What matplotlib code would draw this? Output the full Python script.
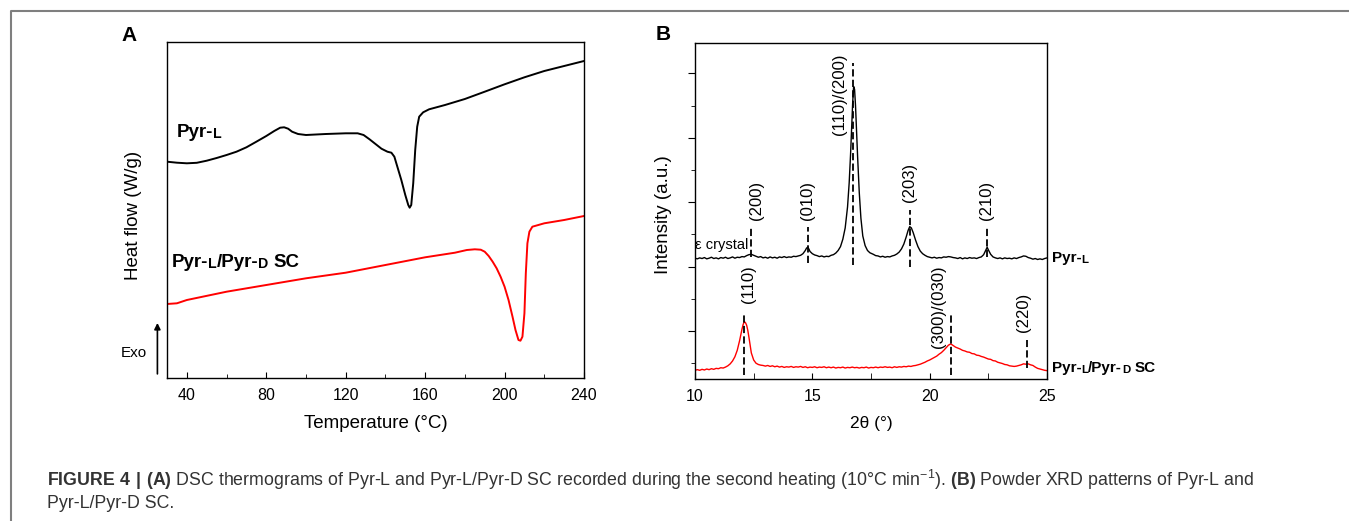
import matplotlib.pyplot as plt
from matplotlib.lines import Line2D
from matplotlib.ticker import MultipleLocator

plt.rcParams['font.family'] = ['Liberation Sans', 'DejaVu Sans']
plt.rcParams['mathtext.fontset'] = 'custom'
plt.rcParams['mathtext.rm'] = 'Liberation Sans'
plt.rcParams['mathtext.bf'] = 'Liberation Sans:bold'

# ---- (A) DSC, second heating ----
dsc_temp_l = [30, 35, 40, 45, 50, 55, 60, 65, 70, 75, 80, 84, 87, 89, 91, 93, 96, 100,
              110, 120, 126, 129, 132, 135, 138, 141, 143, 144.5, 146, 148, 150, 151.5,
              152.2, 153, 154, 155, 156, 157, 159, 162, 170, 180, 190, 200, 210, 220, 230, 240]
dsc_hf_l = [21.63, 21.53, 21.47, 21.52, 21.73, 22.0, 22.3, 22.63, 23.07, 23.63, 24.2, 24.7,
            25.03, 25.07, 24.93, 24.63, 24.4, 24.3, 24.4, 24.47, 24.47, 24.3, 23.87, 23.4,
            22.93, 22.63, 22.53, 22.13, 21.13, 19.8, 18.3, 17.3, 17.03, 17.3, 19.47, 22.8,
            25.13, 26.13, 26.57, 26.87, 27.3, 27.9, 28.63, 29.37, 30.07, 30.7, 31.2, 31.7]

dsc_temp_sc = [30, 35, 40, 60, 80, 100, 120, 140, 160, 175, 181, 185, 188, 190, 192, 194,
               196, 198, 200, 202, 204, 205.5, 207, 208, 209, 210, 210.7, 211.5, 212.5, 214,
               220, 230, 240]
dsc_hf_sc = [7.4, 7.47, 7.8, 8.63, 9.3, 9.97, 10.53, 11.3, 12.07, 12.53, 12.8, 12.87, 12.83,
             12.63, 12.2, 11.63, 10.97, 10.13, 9.13, 7.8, 6.13, 4.8, 3.8, 3.73, 4.13, 6.47,
             10.47, 13.47, 14.63, 15.13, 15.47, 15.8, 16.2]

# ---- (B) powder XRD ----
xrd_2t_l = [10.0, 10.1, 10.2, 10.3, 10.4, 10.5, 10.6, 10.7, 10.8, 10.9, 11.0, 11.1, 11.2, 11.3,
            11.4, 11.5, 11.6, 11.7, 11.8, 11.9, 12.0, 12.1, 12.2, 12.3, 12.4, 12.5, 12.6, 12.7,
            12.8, 12.9, 13.0, 13.1, 13.2, 13.3, 13.4, 13.5, 13.6, 13.7, 13.8, 13.9, 14.0, 14.1,
            14.2, 14.3, 14.4, 14.5, 14.6, 14.7, 14.75, 14.8, 14.85, 14.9, 15.0, 15.1, 15.2, 15.3,
            15.4, 15.5, 15.6, 15.7, 15.8, 15.9, 16.0, 16.1, 16.2, 16.3, 16.4, 16.5, 16.57, 16.63,
            16.68, 16.72, 16.76, 16.8, 16.84, 16.88, 16.93, 17.0, 17.07, 17.15, 17.25, 17.35,
            17.45, 17.6, 17.7, 17.8, 17.9, 18.0, 18.1, 18.2, 18.3, 18.4, 18.5, 18.6, 18.7, 18.8,
            18.9, 19.0, 19.08, 19.15, 19.22, 19.3, 19.4, 19.5, 19.6, 19.7, 19.8, 19.9, 20.0, 20.1,
            20.2, 20.3, 20.4, 20.5, 20.6, 20.7, 20.8, 20.9, 21.0, 21.1, 21.2, 21.3, 21.4, 21.5,
            21.6, 21.7, 21.8, 21.9, 22.0, 22.1, 22.2, 22.3, 22.4, 22.45, 22.5, 22.6, 22.7, 22.8,
            22.9, 23.0, 23.1, 23.2, 23.3, 23.4, 23.5, 23.6, 23.7, 23.8, 23.9, 24.0, 24.1, 24.2,
            24.3, 24.4, 24.5, 24.6, 24.7, 24.8, 24.9, 25.0]
xrd_int_l = [4.26, 4.24, 4.27, 4.25, 4.28, 4.24, 4.26, 4.29, 4.25, 4.27, 4.24, 4.28, 4.26, 4.29,
             4.25, 4.27, 4.30, 4.26, 4.29, 4.28, 4.31, 4.30, 4.34, 4.37, 4.38, 4.35, 4.32, 4.29,
             4.31, 4.27, 4.29, 4.26, 4.30, 4.27, 4.29, 4.26, 4.30, 4.28, 4.31, 4.28, 4.30, 4.29,
             4.32, 4.31, 4.33, 4.35, 4.40, 4.50, 4.57, 4.60, 4.55, 4.47, 4.40, 4.36, 4.34, 4.31,
             4.33, 4.30, 4.32, 4.31, 4.35, 4.37, 4.42, 4.50, 4.62, 4.85, 5.20, 5.85, 6.60, 7.50,
             8.40, 9.10, 9.59, 9.50, 9.00, 8.30, 7.40, 6.30, 5.50, 4.95, 4.65, 4.50,
             4.43, 4.38, 4.34, 4.33, 4.30, 4.32, 4.29, 4.31, 4.30, 4.33, 4.35, 4.39, 4.45, 4.55,
             4.70, 4.92, 5.12, 5.24, 5.20, 5.05, 4.82, 4.62, 4.48, 4.40, 4.35, 4.31, 4.29, 4.27,
             4.29, 4.26, 4.28, 4.27, 4.30, 4.29, 4.31, 4.30, 4.28, 4.27, 4.25, 4.28, 4.24, 4.27,
             4.25, 4.28, 4.26, 4.27, 4.25, 4.28, 4.30, 4.37, 4.52, 4.60, 4.52, 4.38, 4.30, 4.27,
             4.25, 4.27, 4.24, 4.27, 4.25, 4.26, 4.24, 4.27, 4.25, 4.28, 4.30, 4.33, 4.32, 4.28,
             4.26, 4.23, 4.25, 4.22, 4.24, 4.22, 4.25, 4.27]

xrd_2t_sc = [10.0, 10.1, 10.2, 10.3, 10.4, 10.5, 10.6, 10.7, 10.8, 10.9, 11.0, 11.1, 11.2, 11.3,
             11.4, 11.5, 11.6, 11.7, 11.8, 11.9, 12.0, 12.05, 12.1, 12.15, 12.2, 12.25, 12.3,
             12.35, 12.4, 12.5, 12.6, 12.7, 12.8, 12.9, 13.0, 13.1, 13.2, 13.3, 13.4, 13.5, 13.6,
             13.7, 13.8, 13.9, 14.0, 14.1, 14.2, 14.3, 14.4, 14.5, 14.6, 14.7, 14.8, 14.9, 15.0,
             15.1, 15.2, 15.3, 15.4, 15.5, 15.6, 15.7, 15.8, 15.9, 16.0, 16.1, 16.2, 16.3, 16.4,
             16.5, 16.6, 16.7, 16.8, 16.9, 17.0, 17.1, 17.2, 17.3, 17.4, 17.5, 17.6, 17.7, 17.8,
             17.9, 18.0, 18.1, 18.2, 18.3, 18.4, 18.5, 18.6, 18.7, 18.8, 18.9, 19.0, 19.1, 19.2,
             19.3, 19.4, 19.5, 19.6, 19.7, 19.8, 19.9, 20.0, 20.1, 20.2, 20.3, 20.4, 20.5, 20.6,
             20.7, 20.8, 20.9, 21.0, 21.1, 21.2, 21.3, 21.4, 21.5, 21.6, 21.7, 21.8, 21.9, 22.0,
             22.1, 22.2, 22.3, 22.4, 22.5, 22.6, 22.7, 22.8, 22.9, 23.0, 23.1, 23.2, 23.3, 23.4,
             23.5, 23.6, 23.7, 23.8, 23.9, 24.0, 24.1, 24.2, 24.3, 24.4, 24.5, 24.6, 24.7, 24.8,
             24.9, 25.0]
xrd_int_sc = [0.78, 0.80, 0.78, 0.81, 0.79, 0.82, 0.80, 0.83, 0.81, 0.84, 0.83, 0.86, 0.85, 0.88,
              0.92, 0.98, 1.07, 1.20, 1.40, 1.70, 2.05, 2.20, 2.29, 2.26, 2.18, 2.02, 1.80,
              1.55, 1.32, 1.10, 1.00, 0.96, 0.94, 0.93, 0.91, 0.93, 0.90, 0.92, 0.89, 0.91, 0.88,
              0.90, 0.87, 0.89, 0.88, 0.90, 0.87, 0.89, 0.88, 0.90, 0.87, 0.89, 0.86, 0.88, 0.87,
              0.89, 0.86, 0.88, 0.87, 0.89, 0.86, 0.88, 0.86, 0.88, 0.85, 0.87, 0.86, 0.88, 0.85,
              0.87, 0.86, 0.88, 0.86, 0.87, 0.85, 0.87, 0.86, 0.88, 0.85, 0.87, 0.86, 0.88, 0.86,
              0.88, 0.87, 0.89, 0.87, 0.88, 0.86, 0.89, 0.87, 0.89, 0.88, 0.90, 0.89, 0.91, 0.90,
              0.92, 0.93, 0.95, 0.97, 1.00, 1.03, 1.07, 1.10, 1.14, 1.18, 1.22, 1.28, 1.33, 1.40,
              1.48, 1.56, 1.60, 1.55, 1.50, 1.47, 1.44, 1.40, 1.38, 1.35, 1.34, 1.30, 1.29, 1.25,
              1.24, 1.21, 1.19, 1.16, 1.13, 1.12, 1.08, 1.07, 1.03, 1.01, 0.99, 0.96, 0.95, 0.92,
              0.91, 0.90, 0.91, 0.93, 0.95, 0.98, 0.97, 0.98, 0.95, 0.93, 0.88, 0.84, 0.82, 0.80,
              0.78, 0.77]

# reflections: position, dashed marker span, label and where the label sits
refl_pos = [12.4, 14.8, 16.75, 19.15, 22.45, 12.1, 20.9, 24.15]
refl_lo = [4.31, 4.10, 4.05, 4.00, 4.31, 0.63, 0.63, 0.84]
refl_hi = [5.24, 5.24, 10.31, 5.76, 5.24, 2.55, 2.55, 1.72]
refl_labels = ['(200)', '(010)', '(110)/(200)', '(203)', '(210)', '(110)', '(300)/(030)', '(220)']
refl_lab_x = [12.63, 14.8, 16.17, 19.12, 22.42, 12.27, 20.36, 24.0]
refl_lab_y = [5.45, 5.45, 8.09, 6.02, 5.45, 2.86, 1.46, 1.98]

W, H = 1349, 521
fig = plt.figure(figsize=(W / 100, H / 100), dpi=100)
axA = fig.add_axes([167 / W, 1 - 378 / H, 417 / W, 336.3 / H])
axB = fig.add_axes([695 / W, 1 - 379 / H, 352 / W, 336.3 / H])


def sc_label(ax, x, y, parts, size, transform):
    """Bold label with small-capital letters, e.g. Pyr-L."""
    s0, small0 = parts[0]
    t = ax.text(x, y, s0, transform=transform, fontsize=size * (0.75 if small0 else 1),
                fontweight='bold', va='baseline', clip_on=False)
    for s, small in parts[1:]:
        dx = 0
        if s.startswith(' '):
            s = s.lstrip()
            dx = size * 0.28
        t = ax.annotate(s, xy=(1, 0), xycoords=t, xytext=(dx, 0), textcoords='offset points',
                        fontsize=size * (0.75 if small else 1), fontweight='bold', va='bottom')
    return t


pyr_l = [('Pyr-', False), ('L', True)]
pyr_sc = [('Pyr-', False), ('L', True), ('/Pyr-', False), ('D', True), (' SC', False)]

# ---- panel A ----
axA.plot(dsc_temp_l, dsc_hf_l, color='black', lw=1.4)
axA.plot(dsc_temp_sc, dsc_hf_sc, color='red', lw=1.4)
axA.set_xlim(30, 240)
axA.set_ylim(0, 33.63)
axA.xaxis.set_major_locator(MultipleLocator(40))
axA.xaxis.set_minor_locator(MultipleLocator(20))
axA.set_yticks([])
axA.tick_params(axis='x', which='both', direction='in', labelsize=11.5, pad=7)
axA.tick_params(axis='x', which='major', length=4)
axA.tick_params(axis='x', which='minor', length=3)
axA.set_xlabel('Temperature (°C)', fontsize=13.5, labelpad=9)
axA.set_ylabel('Heat flow (W/g)', fontsize=13.5)
axA.yaxis.set_label_coords(-0.06, 0.482)
sc_label(axA, 34.9, 24.13, pyr_l, 13.5, axA.transData)
sc_label(axA, 32.4, 11.13, pyr_sc, 13.5, axA.transData)
axA.annotate('', xy=(-0.023, 0.172), xytext=(-0.023, 0.004), xycoords='axes fraction',
             arrowprops=dict(arrowstyle='-|>', color='black', lw=1.2, mutation_scale=9),
             annotation_clip=False)
axA.text(-0.079, 0.074, 'Exo', transform=axA.transAxes, fontsize=11, ha='center', va='center')
fig.text(129.5 / W, 1 - 35.5 / H, 'A', fontsize=15, fontweight='bold', ha='center', va='center')

# ---- panel B ----
axB.plot(xrd_2t_l, xrd_int_l, color='black', lw=1.0)
axB.plot(xrd_2t_sc, xrd_int_sc, color='red', lw=1.0)
axB.vlines(refl_pos, refl_lo, refl_hi, colors='black', linestyles=(0, (4, 1.8)), lw=1.3)
for lab, lx, ly in zip(refl_labels, refl_lab_x, refl_lab_y):
    axB.text(lx, ly, lab, rotation=90, ha='center', va='bottom', fontsize=12)
axB.text(10.02, 4.54, 'ε crystal', fontsize=10.5, va='baseline')
axB.set_xlim(10, 25)
axB.set_ylim(0.51, 10.95)
axB.xaxis.set_major_locator(MultipleLocator(5))
axB.xaxis.set_minor_locator(MultipleLocator(2.5))
axB.yaxis.set_major_locator(MultipleLocator(2))
axB.yaxis.set_minor_locator(MultipleLocator(1))
axB.tick_params(axis='x', which='both', direction='in', labelsize=11.5, pad=7, length=4)
axB.tick_params(axis='y', which='both', direction='out', labelleft=False)
axB.tick_params(axis='y', which='major', length=5)
axB.tick_params(axis='y', which='minor', length=3)
axB.set_xlabel('2θ (°)', fontsize=12.5, labelpad=9)
axB.set_ylabel('Intensity (a.u.)', fontsize=13.5)
axB.yaxis.set_label_coords(-0.065, 0.488)
sc_label(axB, 1.0133, 4.15, pyr_l, 11, axB.get_yaxis_transform())
sc_label(axB, 1.0133, 0.74, pyr_sc, 11, axB.get_yaxis_transform())
fig.text(663 / W, 1 - 35 / H, 'B', fontsize=15, fontweight='bold', ha='center', va='center')

for ax in (axA, axB):
    for sp in ax.spines.values():
        sp.set_linewidth(1.0)

# ---- caption and frame ----
caption1 = (r'$\mathbf{FIGURE\ 4\ |\ (A)}$ DSC thermograms of Pyr-L and Pyr-L/Pyr-D SC recorded '
            r'during the second heating (10°C min$^{-1}$). $\mathbf{(B)}$ Powder XRD patterns of '
            r'Pyr-L and')
fig.text(47 / W, 1 - 486.5 / H, caption1, fontsize=12.8, color='#333333', va='baseline')
fig.text(47 / W, 1 - 508 / H, 'Pyr-L/Pyr-D SC.', fontsize=12.8, color='#333333', va='baseline')
fig.add_artist(Line2D([11 / W, 11 / W, 1.0], [0, 1 - 11 / H, 1 - 11 / H],
                      transform=fig.transFigure, color='#7f7f7f', lw=1.5))

fig.savefig('out.png', dpi=100)
